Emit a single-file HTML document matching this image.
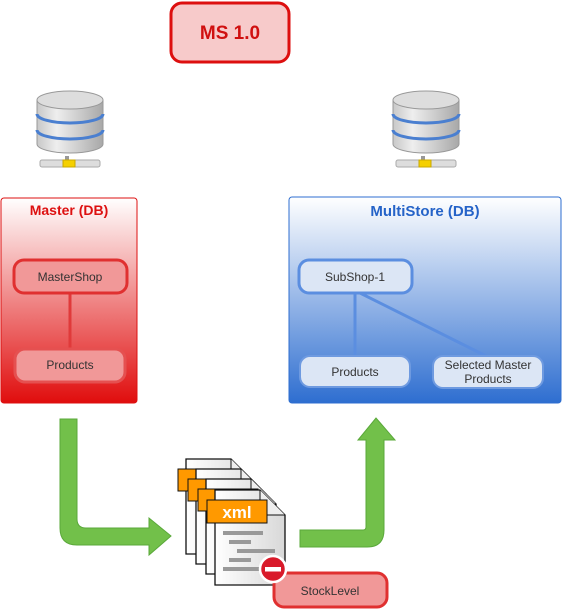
<!DOCTYPE html>
<html><head><meta charset="utf-8"><style>
html,body{margin:0;padding:0;background:#fff;}
svg{display:block;font-family:"Liberation Sans",Arial,sans-serif;}
</style></head><body>
<svg width="565" height="610" viewBox="0 0 565 610" xmlns="http://www.w3.org/2000/svg">
<defs>
<linearGradient id="gr" x1="0" y1="0" x2="0" y2="1"><stop offset="0" stop-color="#fff"/><stop offset="1" stop-color="#e00d0d"/></linearGradient>
<linearGradient id="gb" x1="0" y1="0" x2="0" y2="1"><stop offset="0" stop-color="#fff"/><stop offset="1" stop-color="#2e6ed0"/></linearGradient>
<linearGradient id="cyl" x1="0" y1="0" x2="1" y2="0"><stop offset="0" stop-color="#c8c8c8"/><stop offset="0.3" stop-color="#eee"/><stop offset="1" stop-color="#a8a8a8"/></linearGradient>
<linearGradient id="doc" x1="0" y1="0" x2="1" y2="0"><stop offset="0" stop-color="#fff"/><stop offset="1" stop-color="#d8d8d8"/></linearGradient>
<g id="db">
 <rect x="28" y="66" width="4" height="10" fill="#999"/>
 <rect x="3" y="70" width="60" height="7" rx="2" fill="#ddd" stroke="#aaa"/>
 <rect x="26" y="70" width="12" height="7" fill="#f5d000" stroke="#c9a800"/>
 <path d="M0,10 v44 a33,9 0 0 0 66,0 v-44" fill="url(#cyl)" stroke="#999"/>
 <path d="M0,24 a33,9 0 0 0 66,0" fill="none" stroke="#4a7fd0" stroke-width="3"/>
 <path d="M0,40 a33,9 0 0 0 66,0" fill="none" stroke="#4a7fd0" stroke-width="3"/>
 <ellipse cx="33" cy="10" rx="33" ry="9" fill="#ddd" stroke="#999"/>
</g>
<g id="d">
 <path d="M0,0 h45 l25,25 v70 h-70z" fill="url(#doc)" stroke="#111" stroke-width="1.3"/>
 <path d="M45,0 v25 h25" fill="#eee" stroke="#111" stroke-width="1"/>
 <rect x="-8" y="10" width="60" height="22" fill="#f90" stroke="#111" stroke-width="1"/>
</g>
</defs>

<rect x="171" y="3" width="118" height="59" rx="11" fill="#f7caca" stroke="#dd0f0f" stroke-width="3"/>
<text x="230" y="39" text-anchor="middle" font-size="19" font-weight="bold" fill="#d01010">MS 1.0</text>

<use href="#db" x="37" y="90"/>
<use href="#db" x="393" y="90"/>

<rect x="1" y="198" width="136" height="205" rx="3" fill="url(#gr)" stroke="#dd1010"/>
<text x="69" y="215" text-anchor="middle" font-size="14" font-weight="bold" fill="#dd1010">Master (DB)</text>
<line x1="70" y1="293" x2="70" y2="350" stroke="#e03a3a" stroke-width="3"/>
<rect x="14" y="260" width="113" height="33" rx="10" fill="#f19898" stroke="#e03030" stroke-width="3"/>
<text x="70" y="281" text-anchor="middle" font-size="12" fill="#333">MasterShop</text>
<rect x="15" y="349" width="110" height="33" rx="10" fill="#f19898" stroke="#e55050" stroke-width="3"/>
<text x="70" y="369" text-anchor="middle" font-size="12" fill="#333">Products</text>

<rect x="289" y="197" width="272" height="206" rx="3" fill="url(#gb)" stroke="#2e6ed0"/>
<text x="425" y="216" text-anchor="middle" font-size="15" font-weight="bold" fill="#2563c8">MultiStore (DB)</text>
<line x1="355" y1="293" x2="355" y2="357" stroke="#5b8ee0" stroke-width="3"/>
<line x1="360" y1="293" x2="488" y2="357" stroke="#5b8ee0" stroke-width="3"/>
<rect x="299" y="260" width="113" height="33" rx="10" fill="#dce6f5" stroke="#5b8ee0" stroke-width="3"/>
<text x="355" y="281" text-anchor="middle" font-size="12" fill="#333">SubShop-1</text>
<rect x="300" y="356" width="110" height="31" rx="10" fill="#dce6f5" stroke="#6e9ae0" stroke-width="2"/>
<text x="355" y="376" text-anchor="middle" font-size="12" fill="#333">Products</text>
<rect x="433" y="356" width="110" height="32" rx="10" fill="#dce6f5" stroke="#6e9ae0" stroke-width="2"/>
<text x="488" y="369" text-anchor="middle" font-size="12" fill="#333">Selected Master</text>
<text x="488" y="383" text-anchor="middle" font-size="12" fill="#333">Products</text>

<path d="M60,419 h17 v100 q0,9 9,9 h63 v-10 l22,18 l-22,19 v-10 h-72 q-17,0 -17,-17z" fill="#72c04a" stroke="#5aa83a"/>
<path d="M300,530 h63 q3,0 3,-3 v-87 h-8 l18,-22 l19,22 h-11 v90 q0,17 -17,17 h-67z" fill="#72c04a" stroke="#5aa83a"/>

<use href="#d" x="186" y="459"/>
<use href="#d" x="196" y="469"/>
<use href="#d" x="206" y="479"/>
<g transform="translate(215,490)">
 <path d="M0,0 h45 l25,25 v70 h-70z" fill="url(#doc)" stroke="#111" stroke-width="1.3"/>
 <path d="M45,0 v25 h25" fill="#eee" stroke="#111"/>
 <rect x="-8" y="10" width="60" height="23" fill="#f90" stroke="#111"/>
 <text x="22" y="28" text-anchor="middle" font-size="17" font-weight="bold" fill="#fff">xml</text>
 <g fill="#999">
 <rect x="8" y="41" width="40" height="4"/><rect x="14" y="50" width="22" height="4"/>
 <rect x="22" y="59" width="38" height="4"/><rect x="14" y="68" width="22" height="4"/>
 <rect x="8" y="77" width="40" height="4"/></g>
</g>

<rect x="274" y="573" width="113" height="34" rx="10" fill="#f19898" stroke="#e03030" stroke-width="3"/>
<text x="330" y="595" text-anchor="middle" font-size="12" fill="#333">StockLevel</text>
<circle cx="273" cy="569" r="13" fill="#d91a2a" stroke="#fff" stroke-width="2.5"/>
<rect x="265" y="567" width="16" height="4.5" fill="#fff"/>
</svg>
</body></html>
